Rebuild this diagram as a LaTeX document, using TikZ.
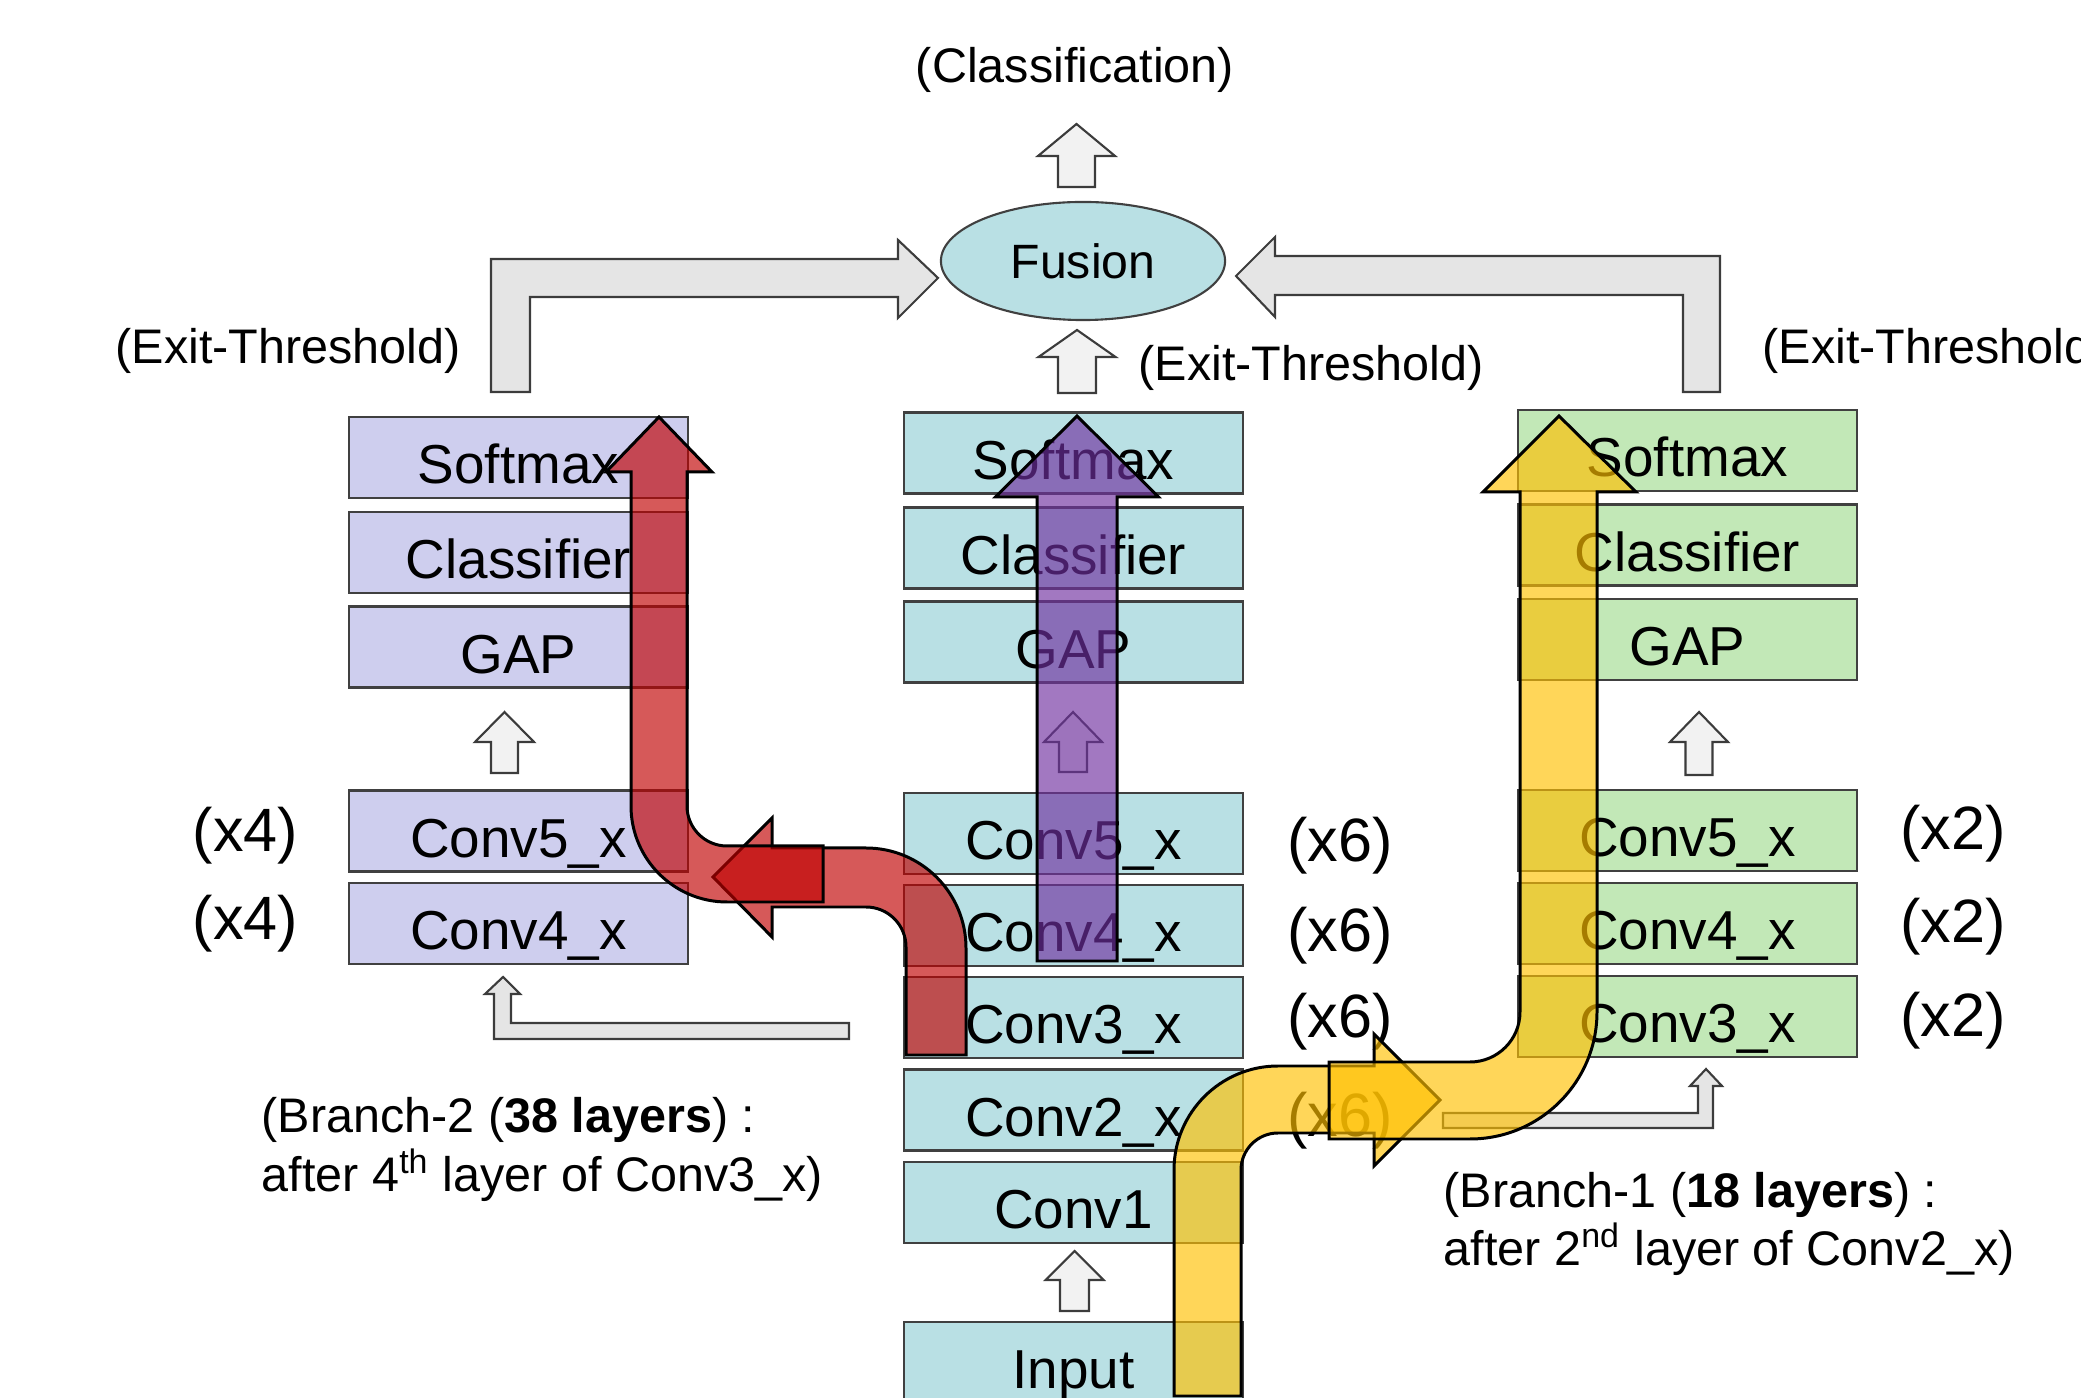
\documentclass[tikz,border=0pt]{standalone}
\usepackage{fontspec}
\setmainfont{Liberation Sans}
\usetikzlibrary{shapes.geometric}

\definecolor{lavbox}{RGB}{206,206,238}
\definecolor{cyanbox}{RGB}{185,224,228}
\definecolor{greenbox}{RGB}{194,232,183}
\definecolor{boxedge}{RGB}{64,64,64}
\definecolor{arrowedge}{RGB}{60,60,60}
\definecolor{flowred}{RGB}{192,0,0}
\definecolor{flowpurple}{RGB}{112,48,160}
\definecolor{flowyellow}{RGB}{255,192,0}

% vertical block arrow: style, centre x, tip y, head base y, tail y, half head width, half shaft width
\newcommand{\blockup}[7]{%
  \draw[#1] ({#2-#7},#5) -- ({#2-#7},#4) -- ({#2-#6},#4) -- (#2,#3)
    -- ({#2+#6},#4) -- ({#2+#7},#4) -- ({#2+#7},#5) -- cycle;}

\tikzset{
  layer/.style={draw=boxedge, line width=0.6pt, minimum width=3.39cm,
    minimum height=0.81cm, inner sep=0pt,
    font=\fontsize{15.6}{18}\selectfont, text height=0.52cm, text depth=0pt},
  lav/.style={layer, fill=lavbox},
  cyanl/.style={layer, fill=cyanbox},
  greenl/.style={layer, fill=greenbox},
  ann/.style={anchor=base west, inner sep=0pt, font=\fontsize{13.8}{16}\selectfont},
  annc/.style={ann, anchor=base},
  rep/.style={anchor=base, inner sep=0pt, font=\fontsize{17.4}{20}\selectfont},
  gblock/.style={draw=arrowedge, fill=gray!20, line width=0.6pt},
  gblocklight/.style={gblock, fill=gray!10},
  flow/.style={draw=black, line width=0.85pt, fill opacity=0.65},
}

\begin{document}
\begin{tikzpicture}[x=0.01cm, y=-0.01cm]
\useasboundingbox (0,0) rectangle (2081,1398);

% ---- branch 2 column ----
\node[lav] (lsoft) at (518.5,457.5) {Softmax};
\node[lav] (lcls)  at (518.5,552.5) {Classifier};
\node[lav] (lgap)  at (518.5,647)   {GAP};
\node[lav] (lc5)   at (518.5,831)   {Conv5\_x};
\node[lav] (lc4)   at (518.5,923.5) {Conv4\_x};

% ---- main column ----
\node[cyanl] (csoft) at (1073.5,453)    {Softmax};
\node[cyanl] (ccls)  at (1073.5,548)    {Classifier};
\node[cyanl] (cgap)  at (1073.5,642)    {GAP};
\node[cyanl] (cc5)   at (1073.5,833.5)  {Conv5\_x};
\node[cyanl] (cc4)   at (1073.5,925.5)  {Conv4\_x};
\node[cyanl] (cc3)   at (1073.5,1017.5) {Conv3\_x};
\node[cyanl] (cc2)   at (1073.5,1110)   {Conv2\_x};
\node[cyanl] (cc1)   at (1073.5,1202.5) {Conv1};
\node[cyanl] (cin)   at (1073.5,1362.5) {Input};

% ---- branch 1 column ----
\node[greenl] (rsoft) at (1687.5,450.5)  {Softmax};
\node[greenl] (rcls)  at (1687.5,545)    {Classifier};
\node[greenl] (rgap)  at (1687.5,639.5)  {GAP};
\node[greenl] (rc5)   at (1687.5,830.5)  {Conv5\_x};
\node[greenl] (rc4)   at (1687.5,923.5)  {Conv4\_x};
\node[greenl] (rc3)   at (1687.5,1016.5) {Conv3\_x};

% ---- repetition counts ----
\node[rep] (n4a) at (245.5,852)  {(x4)};
\node[rep] (n4b) at (245.5,940)  {(x4)};
\node[rep] (n6a) at (1340,862)   {(x6)};
\node[rep] (n6b) at (1340,952)   {(x6)};
\node[rep] (n6c) at (1340,1038)  {(x6)};
\node[rep] (n6d) at (1340,1137)  {(x6)};
\node[rep] (n2a) at (1953,850)   {(x2)};
\node[rep] (n2b) at (1953,943)   {(x2)};
\node[rep] (n2c) at (1953,1037)  {(x2)};

% ---- annotations ----
\node[annc] (classif) at (1075,83) {(Classification)};
\node[ann] (exitl) at (115,364)  {(Exit-Threshold)};
\node[ann] (exitc) at (1138,381) {(Exit-Threshold)};
\node[ann] (exitr) at (1762,364) {(Exit-Threshold)};
\node[ann] (br2a) at (261,1133) {(Branch-2 (\textbf{38 layers}) :};
\node[ann] (br2b) at (261,1192) {after 4\textsuperscript{th} layer of Conv3\_x)};
\node[ann] (br1a) at (1443,1208) {(Branch-1 (\textbf{18 layers}) :};
\node[ann] (br1b) at (1443,1266) {after 2\textsuperscript{nd} layer of Conv2\_x)};

% ---- fusion ----
\node[ellipse, draw=boxedge, line width=0.6pt, fill=cyanbox, minimum width=2.84cm,
  minimum height=1.18cm, inner sep=0pt, font=\fontsize{13.7}{16}\selectfont] (fusion)
  at (1083,261) {Fusion};

% ---- grey block arrows ----
\blockup{gblocklight}{1076.5}{124}{156}{187}{38.5}{18.5}
\blockup{gblocklight}{1077}{330}{357}{393}{38.5}{19}
\blockup{gblocklight}{504.5}{712}{742}{773}{29.5}{13.5}
\blockup{gblocklight}{1073}{712}{742}{772}{29}{14}
\blockup{gblocklight}{1699}{712}{742}{775}{29}{13.5}
\blockup{gblocklight}{1074.5}{1251}{1280}{1311}{29}{14.5}

% exits into the fusion node
\draw[gblock] (491,392) -- (491,259) -- (898,259) -- (898,240) -- (938,278)
  -- (898,318) -- (898,297) -- (530,297) -- (530,392) -- cycle;
\draw[gblock] (1720,392) -- (1720,256) -- (1275,256) -- (1275,237) -- (1236,276)
  -- (1275,317) -- (1275,295) -- (1683,295) -- (1683,392) -- cycle;

% branch feeds
\draw[gblock] (849,1039) -- (494,1039) -- (494,994) -- (485,994) -- (503,977)
  -- (520,994) -- (511,994) -- (511,1023) -- (849,1023) -- cycle;
\draw[gblock] (1443,1128) -- (1713,1128) -- (1713,1086) -- (1722,1086) -- (1706,1069)
  -- (1690,1086) -- (1698,1086) -- (1698,1113) -- (1443,1113) -- cycle;

% ---- coloured flow arrows ----
% main path
\blockup{flow, fill=flowpurple}{1077}{416}{497}{961}{81.5}{40}

% branch 2: out of Conv3_x to the left
\draw[flow, fill=flowred] (906,1055) -- (966,1055) -- (966,948)
  .. controls (966,892.8) and (921.2,848) .. (866,848)
  -- (772,848) -- (772,818) -- (713,877) -- (772,937) -- (772,907) -- (866,907)
  .. controls (888.1,907) and (906,924.9) .. (906,947) -- cycle;
% branch 2: up to its softmax
\draw[flow, fill=flowred] (823,846) -- (823,902) -- (727,902)
  .. controls (674,902) and (631,859) .. (631,806)
  -- (631,472) -- (606,472) -- (659,417) -- (712,472) -- (687,472) -- (687,806)
  .. controls (687,828.1) and (704.9,846) .. (727,846) -- cycle;

% branch 1: out of the input to the right
\draw[flow, fill=flowyellow] (1174,1396) -- (1174,1170)
  .. controls (1174,1112.6) and (1220.6,1066) .. (1278,1066)
  -- (1374,1066) -- (1374,1034) -- (1440,1100) -- (1374,1166) -- (1374,1133) -- (1278,1133)
  .. controls (1257.6,1133) and (1241,1149.6) .. (1241,1170)
  -- (1241,1396) -- cycle;
% branch 1: up to its softmax
\draw[flow, fill=flowyellow] (1329,1062) -- (1470,1062)
  .. controls (1497.6,1062) and (1520,1039.6) .. (1520,1012)
  -- (1520,492) -- (1483,492) -- (1559,416) -- (1636,492) -- (1597,492) -- (1597,1012)
  .. controls (1597,1082.1) and (1540.1,1139) .. (1470,1139)
  -- (1329,1139) -- cycle;

\end{tikzpicture}
\end{document}
